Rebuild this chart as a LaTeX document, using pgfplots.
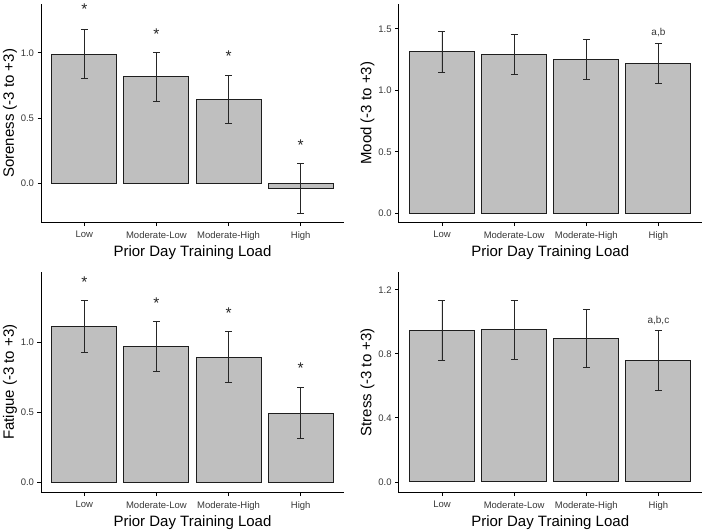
\documentclass[border=0pt]{standalone}
\usepackage{fontspec}
\setmainfont{Liberation Sans}
\usepackage{pgfplots}
\pgfplotsset{compat=1.18}
\usepackage{pgfplotstable}

\definecolor{barfill}{RGB}{191,191,191}
\definecolor{barline}{RGB}{30,30,30}
\definecolor{ticklab}{RGB}{55,55,55}

\pgfplotstableread{
x y e
1 0.990 0.190
2 0.815 0.188
3 0.642 0.187
4 -0.043 0.190
}\soreness
\pgfplotstableread{
x y e
1 1.313 0.165
2 1.289 0.163
3 1.251 0.161
4 1.218 0.165
}\mood
\pgfplotstableread{
x y e
1 1.114 0.186
2 0.971 0.180
3 0.893 0.182
4 0.495 0.184
}\fatigue
\pgfplotstableread{
x y e
1 0.947 0.188
2 0.951 0.183
3 0.897 0.183
4 0.759 0.187
}\stress

\pgfplotsset{
  panel/.style={
    scale only axis,
    width=303pt,
    axis lines*=left,
    axis line style={-, black, line width=0.9pt},
    tick style={black, line width=0.9pt},
    tick align=outside,
    major tick length=3.5pt,
    xmin=0.4, xmax=4.6,
    xtick={1,2,3,4},
    xticklabels={Low,Moderate-Low,Moderate-High,High},
    ticklabel style={font=\fontsize{9.5}{11}\selectfont, text=ticklab},
    xticklabel style={yshift=-1.5pt},
    yticklabel style={/pgf/number format/.cd, fixed, fixed zerofill, precision=1, assume math mode=true},
    label style={font=\fontsize{15}{17}\selectfont},
    xlabel={Prior Day Training Load},
    xlabel style={yshift=1pt},
    ylabel style={yshift=-3pt},
    clip=false,
  },
  bars/.style={
    ybar, bar width=0.9, bar shift=0pt,
    fill=barfill, draw=barline, line width=1pt,
    error bars/.cd, y dir=both, y explicit,
    error bar style={line width=0.9pt, black!85},
    error mark options={rotate=90, mark size=3.5pt, line width=0.9pt, black!85},
  },
  stars/.style={
    draw=none, mark=none,
    nodes near coords, point meta=explicit symbolic,
    nodes near coords style={font=\fontsize{15.5}{17}\selectfont, anchor=base, yshift=-8.9pt, text=black!85},
  },
  letters/.style={
    draw=none, mark=none,
    nodes near coords, point meta=explicit symbolic,
    nodes near coords style={font=\fontsize{10}{12}\selectfont, anchor=center, text=ticklab},
  },
}

\begin{document}
\begin{tikzpicture}
\useasboundingbox (0,0) rectangle (706pt,530pt);

% Soreness
\begin{axis}[panel, at={(41pt,307.3pt)}, anchor=south west, height=218.7pt,
  ymin=-0.305, ymax=1.376, ytick={0,0.5,1.0},
  ylabel={Soreness (-3 to +3)}]
\addplot[bars] table[x=x, y=y, y error=e] {\soreness};
\addplot[stars] table[meta=l] {
x y l
1 1.36 *
2 1.17 *
3 1.00 *
4 0.318 *
};
\end{axis}

% Mood
\begin{axis}[panel, at={(398.7pt,307.3pt)}, anchor=south west, height=218.7pt,
  ymin=-0.0765, ymax=1.703, ytick={0,0.5,1.0,1.5},
  ylabel={Mood (-3 to +3)}]
\addplot[bars] table[x=x, y=y, y error=e] {\mood};
\addplot[letters] table[meta=l] {
x y l
4 1.468 {a,b}
};
\end{axis}

% Fatigue
\begin{axis}[panel, at={(41pt,37.3pt)}, anchor=south west, height=221pt,
  ymin=-0.074, ymax=1.504, ytick={0,0.5,1.0},
  ylabel={Fatigue (-3 to +3)}]
\addplot[bars] table[x=x, y=y, y error=e] {\fatigue};
\addplot[stars] table[meta=l] {
x y l
1 1.452 *
2 1.305 *
3 1.233 *
4 0.838 *
};
\end{axis}

% Stress
\begin{axis}[panel, at={(398.7pt,37.3pt)}, anchor=south west, height=221pt,
  ymin=-0.067, ymax=1.313, ytick={0,0.4,0.8,1.2},
  ylabel={Stress (-3 to +3)}]
\addplot[bars] table[x=x, y=y, y error=e] {\stress};
\addplot[letters] table[meta=l] {
x y l
4 1.01 {a,b,c}
};
\end{axis}
\end{tikzpicture}
\end{document}
